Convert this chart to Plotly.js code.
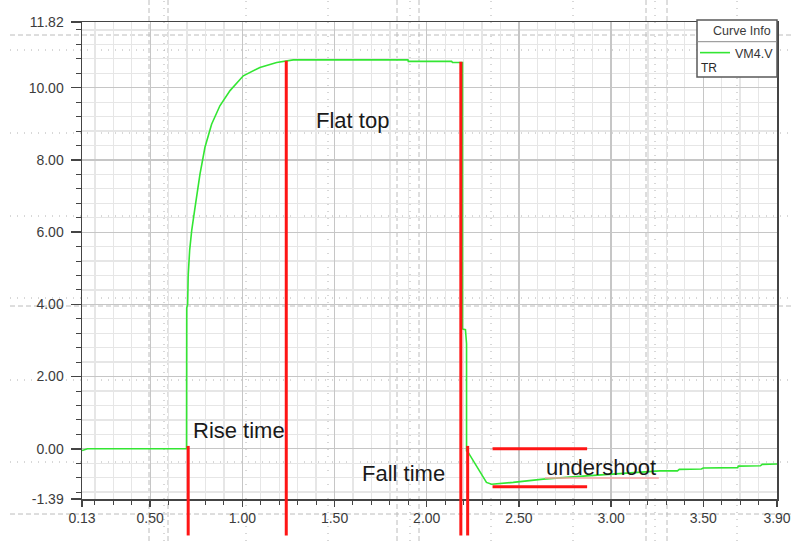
<!DOCTYPE html>
<html>
<head>
<meta charset="utf-8">
<script src="https://cdn.plot.ly/plotly-3.0.1.min.js"></script>
<style>html,body{margin:0;padding:0;background:#fff;}#chart{width:792px;height:541px;}</style>
</head>
<body>
<div id="chart"></div>
<script>
// ---- data ----
const timeValues = [0.13, 0.16, 0.697, 0.698, 0.703, 0.706, 0.714, 0.725, 0.743, 0.770, 0.797, 0.833, 0.878, 0.933, 1.005, 1.095, 1.186, 1.240, 1.276, 1.898, 1.900, 2.135, 2.140, 2.194, 2.194, 2.210, 2.216, 2.216, 2.225, 2.324, 2.352, 2.469, 2.632, 2.867, 3.120, 3.264, 3.360, 3.370, 3.490, 3.500, 3.687, 3.690, 3.810, 3.820, 3.900];
const vm4Values  = [-0.05, 0.00, 0.00, 3.90, 4.00, 4.80, 5.50, 6.04, 6.68, 7.61, 8.35, 8.99, 9.50, 9.92, 10.33, 10.56, 10.70, 10.75, 10.77, 10.77, 10.73, 10.73, 10.70, 10.70, 3.32, 3.30, 2.91, -0.06, -0.10, -0.93, -0.98, -0.93, -0.84, -0.75, -0.66, -0.61, -0.61, -0.57, -0.56, -0.53, -0.52, -0.48, -0.47, -0.43, -0.42];

const xTickVals = [0.13, 0.50, 1.00, 1.50, 2.00, 2.50, 3.00, 3.50, 3.90];
const xTickText = ["0.13", "0.50", "1.00", "1.50", "2.00", "2.50", "3.00", "3.50", "3.90"];
const yTickVals = [11.82, 10.00, 8.00, 6.00, 4.00, 2.00, 0.00, -1.39];
const yTickText = ["11.82", "10.00", "8.00", "6.00", "4.00", "2.00", "0.00", "-1.39"];

// red marker lines (vertical): x position and top value; they run down past the axis
const markerX   = [0.706, 1.238, 2.185, 2.222];
const markerTop = [0.08, 10.75, 10.72, 0.08];
const markerBottom = -2.40;
// undershoot bracket lines (horizontal)
const bracketX0 = [2.357, 2.357];
const bracketX1 = [2.870, 2.870];
const bracketY  = [0.00, -1.05];
// faint underline below "undershoot"
const underlineX = [2.641, 3.259];
const underlineY = -0.81;

// text labels
const labelText = ["Rise time", "Flat top", "Fall time", "undershoot"];
const labelX    = [0.981, 1.597, 1.876, 2.945];
const labelY    = [0.50, 9.10, -0.68, -0.53];

// ---- layout helpers ----
const X_RANGE = [0.13, 3.90], Y_RANGE = [-1.39, 11.82];
const M = {l: 82, r: 15, t: 22, b: 42}, W = 792, H = 541;
const PW = W - M.l - M.r, PH = H - M.t - M.b;
const yToPaper = v => (v - Y_RANGE[0]) / (Y_RANGE[1] - Y_RANGE[0]);
const pxToPaperX = px => (px - M.l) / PW;
const pxToPaperY = py => (H - M.b - py) / PH;

const shapes = [];
// background overlay guides seen in the picture (dotted and dashed)
const dottedV = [164, 246, 328, 410, 491, 573, 655, 737];
const dottedH = [50, 133, 216, 298, 380, 462];
const dashedV = [149, 168, 397, 419, 646, 667];
const dashedH = [35, 306, 514];
dottedV.forEach(px => shapes.push({type:'line', xref:'paper', yref:'paper', layer:'below', x0:pxToPaperX(px), x1:pxToPaperX(px), y0:pxToPaperY(H), y1:pxToPaperY(0), line:{color:'#b0b0b0', width:1, dash:'1px,6px'}}));
dottedH.forEach(py => shapes.push({type:'line', xref:'paper', yref:'paper', layer:'below', x0:pxToPaperX(10), x1:pxToPaperX(W), y0:pxToPaperY(py), y1:pxToPaperY(py), line:{color:'#b0b0b0', width:1, dash:'1px,6px'}}));
dashedV.forEach(px => shapes.push({type:'line', xref:'paper', yref:'paper', layer:'below', x0:pxToPaperX(px), x1:pxToPaperX(px), y0:pxToPaperY(H), y1:pxToPaperY(0), line:{color:'#bcbcbc', width:1, dash:'5px,3px'}}));
dashedH.forEach(py => shapes.push({type:'line', xref:'paper', yref:'paper', layer:'below', x0:pxToPaperX(10), x1:pxToPaperX(W), y0:pxToPaperY(py), y1:pxToPaperY(py), line:{color:'#bcbcbc', width:1, dash:'5px,3px'}}));

// red markers
markerX.forEach((x, i) => shapes.push({type:'line', xref:'x', yref:'paper', layer:'above', x0:x, x1:x, y0:yToPaper(markerBottom), y1:yToPaper(markerTop[i]), line:{color:'#ff1515', width:3}}));
bracketY.forEach((y, i) => shapes.push({type:'line', xref:'x', yref:'y', layer:'above', x0:bracketX0[i], x1:bracketX1[i], y0:y, y1:y, line:{color:'#ff1515', width:3}}));
shapes.push({type:'line', xref:'x', yref:'y', layer:'above', x0:underlineX[0], x1:underlineX[1], y0:underlineY, y1:underlineY, line:{color:'#f5a3a3', width:1.5}});

// legend box ("Curve Info")
shapes.push({type:'rect', xref:'paper', yref:'paper', layer:'above', x0:pxToPaperX(697), x1:pxToPaperX(777), y0:pxToPaperY(77), y1:pxToPaperY(20), fillcolor:'#ffffff', line:{color:'#5a5a5a', width:1.5}});
shapes.push({type:'line', xref:'paper', yref:'paper', layer:'above', x0:pxToPaperX(697), x1:pxToPaperX(777), y0:pxToPaperY(41.7), y1:pxToPaperY(41.7), line:{color:'#8a8a8a', width:1}});

const textFont = {family:'Liberation Sans, Arial, sans-serif', size:22, color:'#1a1a1a'};
const annotations = labelText.map((t, i) => ({text:t, x:labelX[i], y:labelY[i], xref:'x', yref:'y', showarrow:false, xanchor:'center', yanchor:'middle', font:textFont}));
annotations.push({text:'Curve Info', xref:'paper', yref:'paper', x:pxToPaperX(741.7), y:pxToPaperY(31), xanchor:'center', yanchor:'middle', showarrow:false, font:{family:'Liberation Sans, Arial, sans-serif', size:12.5, color:'#3a3a3a'}});
annotations.push({text:'TR', xref:'paper', yref:'paper', x:pxToPaperX(699), y:pxToPaperY(68), xanchor:'left', yanchor:'middle', showarrow:false, font:{family:'Liberation Sans, Arial, sans-serif', size:12, color:'#2a2a2a'}});

const tickFont = {family:'Liberation Sans, Arial, sans-serif', size:14, color:'#3c3c3c'};

const data = [{
  type:'scatter', mode:'lines', name:'VM4.V',
  x: timeValues, y: vm4Values,
  line:{color:'#33e633', width:1.6},
  showlegend:true
}];

const layout = {
  width:W, height:H,
  margin:M,
  paper_bgcolor:'#ffffff', plot_bgcolor:'rgba(0,0,0,0)',
  showlegend:true,
  legend:{x:pxToPaperX(695), y:pxToPaperY(38), xanchor:'left', yanchor:'top', bgcolor:'rgba(0,0,0,0)', borderwidth:0,
          font:{family:'Liberation Sans, Arial, sans-serif', size:12.5, color:'#333'}, itemwidth:30, tracegroupgap:0},
  xaxis:{range:X_RANGE, tickmode:'array', tickvals:xTickVals, ticktext:xTickText,
         ticks:'outside', ticklen:6, tickwidth:1.5, tickcolor:'#444',
         showline:true, mirror:true, linecolor:'#444', linewidth:1.5,
         showgrid:true, gridcolor:'#c6c6c6', gridwidth:1.3, zeroline:false, tickfont:tickFont,
         minor:{tick0:0, dtick:0.1, ticks:'outside', ticklen:4, tickwidth:1, tickcolor:'#444', showgrid:true, gridcolor:'#e6e6e6', gridwidth:1.3}},
  yaxis:{range:Y_RANGE, tickmode:'array', tickvals:yTickVals, ticktext:yTickText,
         ticks:'outside', ticklen:10, tickwidth:1.5, tickcolor:'#444', ticklabelstandoff:4,
         showline:true, mirror:true, linecolor:'#444', linewidth:1.5,
         showgrid:true, gridcolor:'#c6c6c6', gridwidth:1.3, zeroline:false, tickfont:tickFont,
         minor:{tick0:0, dtick:0.4, ticks:'outside', ticklen:5, tickwidth:1, tickcolor:'#444', showgrid:true, gridcolor:'#e6e6e6', gridwidth:1.3}},
  shapes:shapes,
  annotations:annotations
};

Plotly.newPlot('chart', data, layout, {staticPlot:true, displayModeBar:false});
</script>
</body>
</html>
